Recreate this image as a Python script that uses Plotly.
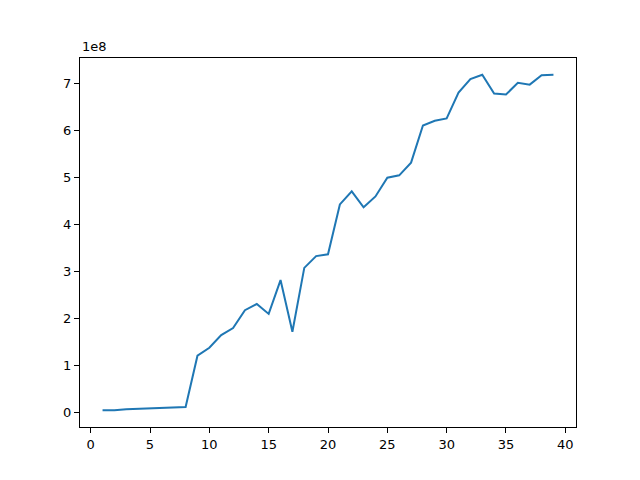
import plotly.graph_objects as go

x = list(range(1, 40))
y = [5e6, 5e6, 7e6, 8e6, 9e6, 1.0e7, 1.0e7, 1.2e7, 1.21e8, 1.38e8,
     1.65e8, 1.80e8, 2.18e8, 2.31e8, 2.10e8, 2.82e8, 1.72e8, 3.08e8, 3.33e8, 3.37e8,
     4.43e8, 4.71e8, 4.37e8, 4.60e8, 5.00e8, 5.05e8, 5.32e8, 6.11e8, 6.21e8, 6.26e8,
     6.81e8, 7.10e8, 7.19e8, 6.79e8, 6.77e8, 7.02e8, 6.98e8, 7.18e8, 7.19e8]

x_ticks = [0, 5, 10, 15, 20, 25, 30, 35, 40]
y_ticks = [0, 1, 2, 3, 4, 5, 6, 7]

fig = go.Figure()
fig.add_trace(go.Scatter(x=x, y=y, mode="lines", line=dict(color="#1f77b4", width=2)))

span = max(y) - min(y)
axis_style = dict(showline=True, linecolor="black", linewidth=1, mirror=True,
                  ticks="outside", ticklen=5, tickcolor="black", showgrid=False,
                  zeroline=False, tickfont=dict(family="DejaVu Sans", size=13, color="black"))
fig.update_xaxes(range=[-0.9, 40.9], tickvals=x_ticks, **axis_style)
fig.update_yaxes(range=[min(y) - 0.05 * span, max(y) + 0.05 * span],
                 tickvals=[v * 1e8 for v in y_ticks], ticktext=[str(v) for v in y_ticks],
                 **axis_style)
fig.update_layout(width=640, height=480, margin=dict(l=72, r=72, t=50, b=61),
                  plot_bgcolor="white", paper_bgcolor="white", showlegend=False,
                  annotations=[dict(text="1e8", x=0, y=1, xref="paper", yref="paper",
                                    xanchor="left", yanchor="bottom", yshift=2, showarrow=False,
                                    font=dict(family="DejaVu Sans", size=13, color="black"))])
fig.write_html("out.html")
